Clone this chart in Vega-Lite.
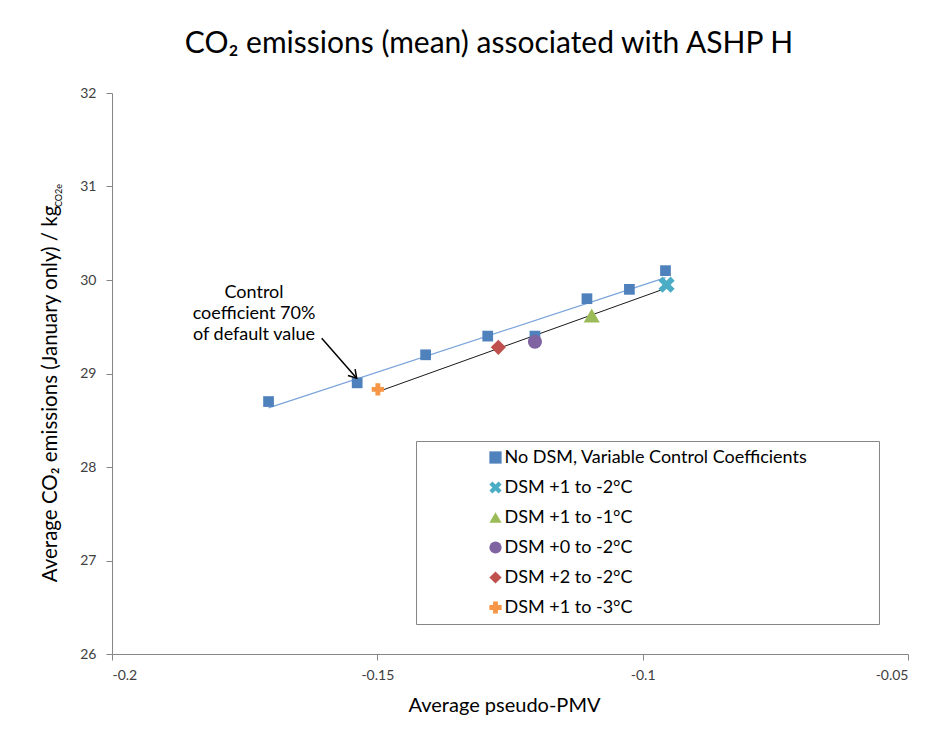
{
  "$schema": "https://vega.github.io/schema/vega-lite/v6.json",
  "width": 796,
  "height": 561,
  "autosize": {"type": "none"},
  "padding": {"left": 112, "top": 93, "right": 39, "bottom": 79},
  "background": "white",
  "title": {"text": "CO₂ emissions (mean) associated with ASHP H", "font": "Lato", "fontSize": 30, "fontWeight": "normal", "color": "#000000", "anchor": "middle", "frame": "group", "dx": -21, "offset": 27},
  "datasets": {
    "points": [
      {"series": "No DSM, Variable Control Coefficients", "pmv": -0.1705, "co2": 28.7},
      {"series": "No DSM, Variable Control Coefficients", "pmv": -0.1538, "co2": 28.9},
      {"series": "No DSM, Variable Control Coefficients", "pmv": -0.1409, "co2": 29.2},
      {"series": "No DSM, Variable Control Coefficients", "pmv": -0.1292, "co2": 29.4},
      {"series": "No DSM, Variable Control Coefficients", "pmv": -0.1203, "co2": 29.4},
      {"series": "No DSM, Variable Control Coefficients", "pmv": -0.1105, "co2": 29.8},
      {"series": "No DSM, Variable Control Coefficients", "pmv": -0.1025, "co2": 29.9},
      {"series": "No DSM, Variable Control Coefficients", "pmv": -0.0957, "co2": 30.1},
      {"series": "DSM +1 to -2°C", "pmv": -0.0955, "co2": 29.95},
      {"series": "DSM +1 to -1°C", "pmv": -0.1096, "co2": 29.62},
      {"series": "DSM +0 to -2°C", "pmv": -0.1203, "co2": 29.34},
      {"series": "DSM +2 to -2°C", "pmv": -0.1272, "co2": 29.28},
      {"series": "DSM +1 to -3°C", "pmv": -0.1499, "co2": 28.83}
    ],
    "note": [
      {"pmv": -0.17324, "co2": 29.804, "label": "Control\ncoefficient 70%\nof default value"}
    ],
    "arrow": [
      {"pmv": -0.16048, "co2": 29.376, "pmv2": -0.15389, "co22": 28.949}
    ],
    "sub": [
      {"pmv": -0.20948, "co2": 30.78, "label": "CO2e"}
    ]
  },
  "encoding": {
    "x": {"field": "pmv", "type": "quantitative", "scale": {"domain": [-0.2, -0.05], "nice": false, "zero": false},
      "axis": {"title": "Average pseudo-PMV", "values": [-0.2, -0.15, -0.1, -0.05], "labelExpr": "'' + datum.value", "labelPadding": 8, "titlePadding": 13, "titleFontSize": 20, "titleX": 392}},
    "y": {"field": "co2", "type": "quantitative", "scale": {"domain": [26, 32], "nice": false, "zero": false},
      "axis": {"title": "Average CO₂ emissions (January only) / kg", "values": [26, 27, 28, 29, 30, 31, 32], "labelPadding": 10, "titleFontSize": 20.5, "titleX": -55.3, "titleY": 300.5, "titleBaseline": "alphabetic", "titleAlign": "center", "titleAngle": 270}}
  },
  "layer": [
    {
      "data": {"name": "points"},
      "transform": [{"filter": "datum.series === 'No DSM, Variable Control Coefficients'"}, {"regression": "co2", "on": "pmv"}],
      "mark": {"type": "line", "color": "#7BA4DB", "strokeWidth": 1.3}
    },
    {
      "data": {"name": "points"},
      "transform": [{"filter": "datum.series !== 'No DSM, Variable Control Coefficients'"}, {"regression": "co2", "on": "pmv"}],
      "mark": {"type": "line", "color": "#1a1a1a", "strokeWidth": 1}
    },
    {
      "data": {"name": "points"},
      "encoding": {
        "color": {"field": "series", "type": "nominal",
          "scale": {"domain": ["No DSM, Variable Control Coefficients", "DSM +1 to -2°C", "DSM +1 to -1°C", "DSM +0 to -2°C", "DSM +2 to -2°C", "DSM +1 to -3°C"],
            "range": ["#4F81BD", "#4BACC6", "#9BBB59", "#8064A2", "#C0504D", "#F79646"]},
          "legend": {"title": "\u00a0", "titleOrient": "right", "titlePadding": 64, "titleFontSize": 18, "titleColor": "#ffffff", "orient": "none", "legendX": 304, "legendY": 348, "padding": 7.5, "symbolOffset": 63, "labelOffset": 0, "rowPadding": 12, "labelFontSize": 18, "labelFont": "Lato", "labelColor": "#000000", "labelLimit": 0, "fillColor": "#ffffff", "strokeColor": "#868686", "symbolSize": 150, "symbolStrokeWidth": 0}},
        "shape": {"field": "series", "type": "nominal",
          "scale": {"domain": ["No DSM, Variable Control Coefficients", "DSM +1 to -2°C", "DSM +1 to -1°C", "DSM +0 to -2°C", "DSM +2 to -2°C", "DSM +1 to -3°C"],
            "range": ["square", "M-1,-0.5L-0.5,-1L0,-0.5L0.5,-1L1,-0.5L0.5,0L1,0.5L0.5,1L0,0.5L-0.5,1L-1,0.5L-0.5,0Z", "triangle-up", "circle", "diamond", "cross"]},
          "legend": {"title": "\u00a0", "titleOrient": "right", "titlePadding": 64, "titleFontSize": 18, "titleColor": "#ffffff", "orient": "none", "legendX": 304, "legendY": 348, "padding": 7.5, "symbolOffset": 63, "labelOffset": 0, "rowPadding": 12, "labelFontSize": 18, "labelFont": "Lato", "labelColor": "#000000", "labelLimit": 0, "fillColor": "#ffffff", "strokeColor": "#868686", "symbolSize": 150, "symbolStrokeWidth": 0}}
      },
      "layer": [
        {"transform": [{"filter": "datum.series === 'No DSM, Variable Control Coefficients'"}], "mark": {"type": "point", "filled": true, "opacity": 1, "strokeWidth": 0, "size": 115}},
        {"transform": [{"filter": "datum.series === 'DSM +1 to -2°C'"}], "mark": {"type": "point", "filled": true, "opacity": 1, "strokeWidth": 0, "size": 260}},
        {"transform": [{"filter": "datum.series === 'DSM +1 to -1°C'"}], "mark": {"type": "point", "filled": true, "opacity": 1, "strokeWidth": 0, "size": 260}},
        {"transform": [{"filter": "datum.series === 'DSM +0 to -2°C'"}], "mark": {"type": "point", "filled": true, "opacity": 1, "strokeWidth": 0, "size": 200}},
        {"transform": [{"filter": "datum.series === 'DSM +2 to -2°C'"}], "mark": {"type": "point", "filled": true, "opacity": 1, "strokeWidth": 0, "size": 230}},
        {"transform": [{"filter": "datum.series === 'DSM +1 to -3°C'"}], "mark": {"type": "point", "filled": true, "opacity": 1, "strokeWidth": 0, "size": 150}}
      ]
    },
    {
      "data": {"name": "note"},
      "mark": {"type": "text", "lineBreak": "\n", "fontSize": 18, "lineHeight": 21, "font": "Lato", "align": "center", "baseline": "alphabetic", "color": "#000000"},
      "encoding": {"text": {"field": "label"}}
    },
    {
      "data": {"name": "arrow"},
      "mark": {"type": "rule", "color": "#000000", "strokeWidth": 1.5},
      "encoding": {"x2": {"field": "pmv2"}, "y2": {"field": "co22"}}
    },
    {
      "data": {"name": "arrow"},
      "mark": {"type": "point", "shape": "M-0.6,1L0,0L0.6,1", "filled": false, "stroke": "#000000", "strokeWidth": 1.5, "angle": 139, "size": 250, "opacity": 1},
      "encoding": {"x": {"field": "pmv2", "type": "quantitative"}, "y": {"field": "co22", "type": "quantitative"}}
    },
    {
      "data": {"name": "sub"},
      "mark": {"type": "text", "angle": 270, "align": "left", "baseline": "alphabetic", "fontSize": 9, "font": "Lato", "color": "#000000"},
      "encoding": {"text": {"field": "label"}}
    }
  ],
  "config": {
    "view": {"stroke": null},
    "font": "Lato",
    "axis": {"domainColor": "#868686", "tickColor": "#868686", "grid": false, "labelFont": "Lato", "labelFontSize": 14, "labelColor": "#404040", "titleFont": "Lato", "titleFontSize": 18, "titleFontWeight": "normal", "titleColor": "#000000", "tickSize": 6}
  }
}
